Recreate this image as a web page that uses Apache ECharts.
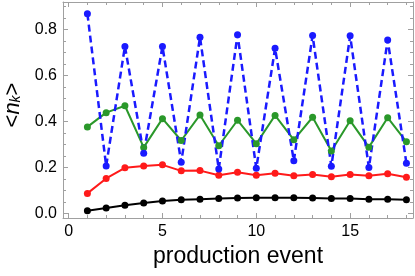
<!DOCTYPE html>
<html>
<head>
<meta charset="utf-8">
<script src="https://cdn.jsdelivr.net/npm/echarts@6/dist/echarts.min.js"></script>
<style>html,body{margin:0;padding:0;background:#fff;}#c{width:415px;height:276px;}</style>
</head>
<body>
<div id="c"></div>
<script>
var events = [1,2,3,4,5,6,7,8,9,10,11,12,13,14,15,16,17,18];
var blueVals = [0.869,0.207,0.727,0.262,0.727,0.223,0.767,0.194,0.778,0.197,0.719,0.230,0.774,0.206,0.773,0.200,0.755,0.219];
var greenVals = [0.377,0.439,0.469,0.288,0.413,0.318,0.429,0.295,0.406,0.304,0.427,0.321,0.419,0.272,0.404,0.289,0.417,0.312];
var redVals = [0.088,0.153,0.199,0.207,0.212,0.186,0.187,0.167,0.180,0.167,0.176,0.165,0.170,0.160,0.170,0.165,0.173,0.158];
var blackVals = [0.013,0.024,0.036,0.046,0.055,0.060,0.063,0.066,0.068,0.069,0.069,0.069,0.068,0.066,0.066,0.063,0.063,0.060];
var xMajorTicks = [0,5,10,15];
var xMinorTicks = [1,2,3,4,6,7,8,9,11,12,13,14,16,17,18];
var yMajorTicks = [0,0.2,0.4,0.6,0.8];
var yMinorTicks = [0.05,0.1,0.15,0.25,0.3,0.35,0.45,0.5,0.55,0.65,0.7,0.75,0.85,0.9];

var FRAME = '#a0a0a0';
var FONT = 'Liberation Sans';
var XMIN = -0.3, XMAX = 18.35, YMIN = -0.019, YMAX = 0.92;

function pair(arr){ return events.map(function(e,i){ return [e, arr[i]]; }); }

function xAx(pos, ticks, len, labels, line){
  return {
    type:'value', position:pos, min:XMIN, max:XMAX, offset:0,
    splitLine:{show:false},
    axisLine:{show:line, onZero:false, lineStyle:{color:FRAME, width:1}},
    axisTick:{show:true, inside:true, length:len, customValues:ticks, lineStyle:{color:FRAME, width:1}},
    axisLabel:{show:labels, customValues:ticks, color:'#000', fontFamily:FONT, fontSize:16, margin:6,
      formatter:function(v){ return String(v); }}
  };
}
function yAx(pos, ticks, len, labels, line){
  return {
    type:'value', position:pos, min:YMIN, max:YMAX, offset:0,
    splitLine:{show:false},
    axisLine:{show:line, onZero:false, lineStyle:{color:FRAME, width:1}},
    axisTick:{show:true, inside:true, length:len, customValues:ticks, lineStyle:{color:FRAME, width:1}},
    axisLabel:{show:labels, customValues:ticks, color:'#000', fontFamily:FONT, fontSize:16, margin:6,
      formatter:function(v){ return v.toFixed(1); }}
  };
}

var xs = [
  xAx('bottom', xMajorTicks, 5, true, true),
  xAx('bottom', xMinorTicks, 3, false, false),
  xAx('top', xMajorTicks, 5, false, true),
  xAx('top', xMinorTicks, 3, false, false)
];
xs[0].name = 'production event';
xs[0].nameLocation = 'middle';
xs[0].nameGap = 22;
xs[0].nameTextStyle = {color:'#000', fontFamily:FONT, fontSize:23};

var ys = [
  yAx('left', yMajorTicks, 5, true, true),
  yAx('left', yMinorTicks, 3, false, false),
  yAx('right', yMajorTicks, 5, false, true),
  yAx('right', yMinorTicks, 3, false, false)
];
ys[0].name = '<{n|n}{k|k}>';
ys[0].nameLocation = 'middle';
ys[0].nameRotate = 90;
ys[0].nameGap = 39;
ys[0].nameTextStyle = {color:'#000', fontFamily:FONT, fontSize:22, lineHeight:20, padding:[0,0,0,10],
  rich:{
    n:{fontFamily:FONT, fontSize:22, fontStyle:'italic', color:'#000', lineHeight:20},
    k:{fontFamily:FONT, fontSize:14, fontStyle:'italic', color:'#000', lineHeight:14, verticalAlign:'bottom'}
  }};

function ser(name, vals, color, dashed){
  return {
    name:name, type:'line', xAxisIndex:0, yAxisIndex:0, data:pair(vals),
    symbol:'circle', symbolSize:7, showSymbol:true,
    itemStyle:{color:color},
    lineStyle:{color:color, width: dashed ? 2.5 : 2, type: dashed ? [7,4] : 'solid'},
    animation:false
  };
}

var chart = echarts.init(document.getElementById('c'), null, {renderer:'canvas'});
chart.setOption({
  animation:false,
  backgroundColor:'#fff',
  grid:{left:63, right:2, top:2, bottom:58, containLabel:false, outerBoundsMode:'none'},
  xAxis: xs,
  yAxis: ys,
  series:[
    ser('black', blackVals, '#000000', false),
    ser('red', redVals, '#ff1a1a', false),
    ser('green', greenVals, '#2a982a', false),
    ser('blue', blueVals, '#1a1aff', true)
  ]
});
</script>
</body>
</html>
